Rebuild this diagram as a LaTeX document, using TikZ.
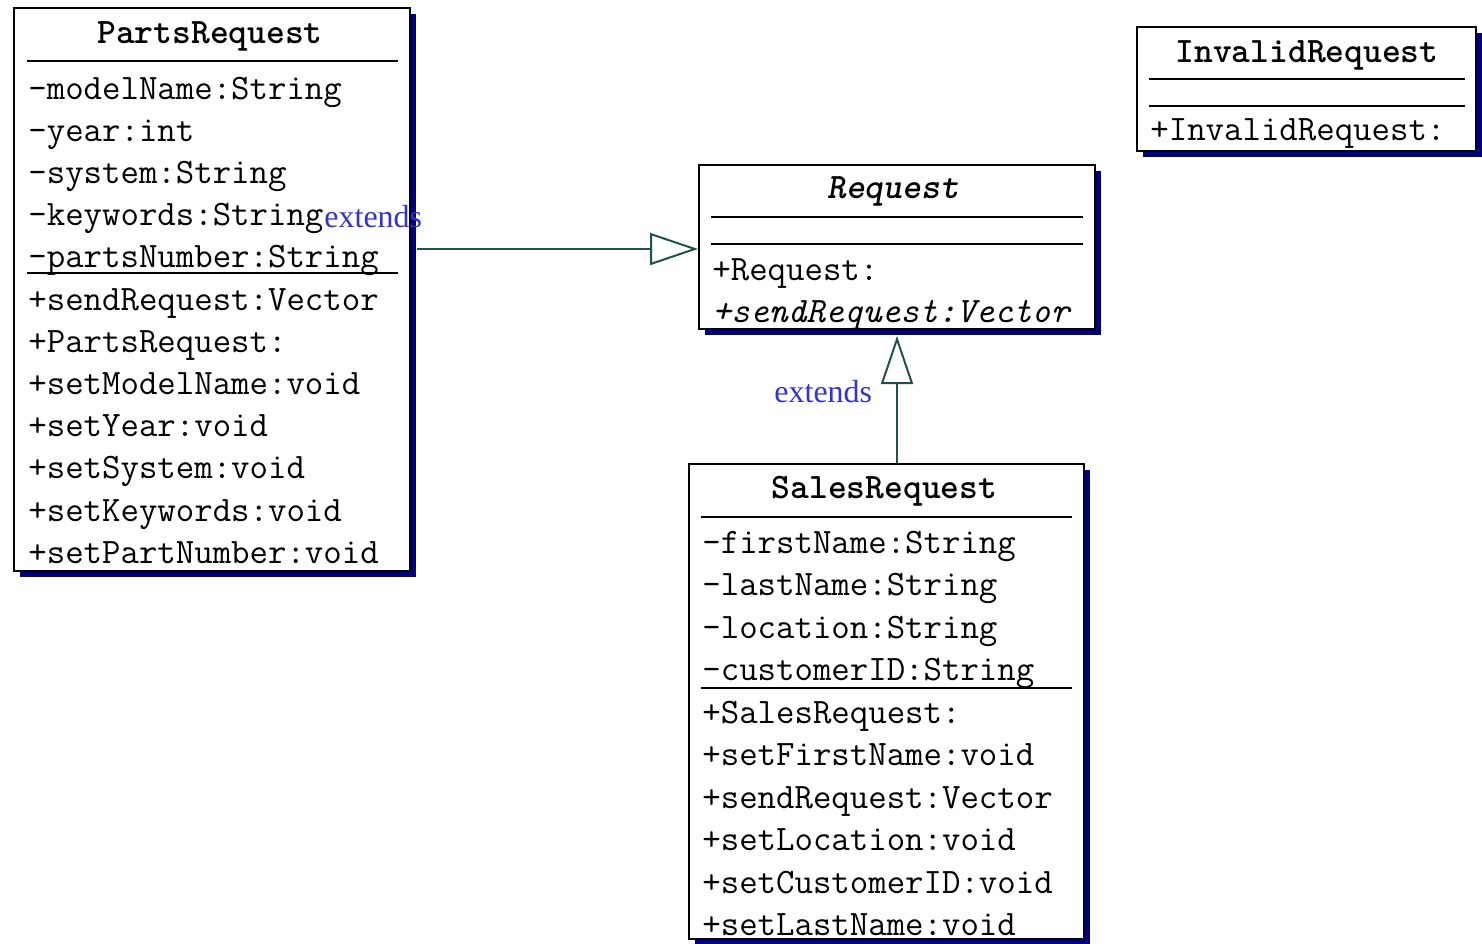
\documentclass[tikz,border=0pt]{standalone}
\usepackage{fontspec}
\newfontfamily\labelfont{Liberation Serif}
\usetikzlibrary{shadows,arrows.meta}
\definecolor{shadowblue}{HTML}{000080}
\definecolor{linkteal}{HTML}{205050}
\definecolor{labelblue}{HTML}{3333CC}
\newcommand\memberfont{\ttfamily\fontsize{17.9}{20}\selectfont}
\begin{document}
\begin{tikzpicture}[x=0.5pt,y=-0.5pt,
  classbox/.style={draw=black, line width=1pt, fill=white, inner sep=0pt,
    drop shadow={shadow xshift=3pt, shadow yshift=-3pt, fill=shadowblue, opacity=1}},
  member/.style={inner sep=0pt, anchor=base west, font=\memberfont},
  classtitle/.style={inner sep=0pt, anchor=base, font=\memberfont\bfseries},
  sepline/.style={line width=1pt},
  link/.style={draw=linkteal, line width=1pt, -{Triangle[length=24pt,width=16pt,fill=white]}},
  extlabel/.style={inner sep=0pt, anchor=base west, text=labelblue, font=\labelfont\fontsize{16}{18}\selectfont}]
\useasboundingbox (0,0) rectangle (1482,943);

% class boxes
\node[classbox, minimum width=198pt, minimum height=281.5pt] (parts) at (212,289.5) {};
\node[classbox, minimum width=198pt, minimum height=82pt] (req) at (897,247) {};
\node[classbox, minimum width=169.5pt, minimum height=62pt] (inv) at (1306.5,89) {};
\node[classbox, minimum width=197.5pt, minimum height=237.5pt] (sales) at (886.5,701.5) {};

% PartsRequest
\node[classtitle] (partsT) at (210,43) {PartsRequest};
\draw[sepline] (27,61) -- (398,61);
\draw[sepline] (27,272.5) -- (398,272.5);
\foreach \t [count=\i from 0] in {-modelName:String,-year:int,-system:String,-keywords:String,-partsNumber:String,+sendRequest:Vector,+PartsRequest:,+setModelName:void,+setYear:void,+setSystem:void,+setKeywords:void,+setPartNumber:void}
  \node[member] (pm\i) at (28,99+42.2*\i) {\t};

% Request (abstract)
\node[classtitle, font=\memberfont\bfseries\itshape] (reqT) at (893,198) {Request};
\draw[sepline] (711,217) -- (1083,217);
\draw[sepline] (711,244) -- (1083,244);
\node[member] (rm0) at (712,280) {+Request:};
\node[member, font=\memberfont\itshape] (rm1) at (712,322) {+sendRequest:Vector};

% InvalidRequest
\node[classtitle] (invT) at (1307,62) {InvalidRequest};
\draw[sepline] (1149,79) -- (1465,79);
\draw[sepline] (1149,106) -- (1465,106);
\node[member] (im0) at (1150,140) {+InvalidRequest:};

% SalesRequest
\node[classtitle] (salesT) at (884.5,498) {SalesRequest};
\draw[sepline] (701,517) -- (1072,517);
\draw[sepline] (701,688) -- (1072,688);
\foreach \t [count=\i from 0] in {-firstName:String,-lastName:String,-location:String,-customerID:String,+SalesRequest:,+setFirstName:void,+sendRequest:Vector,+setLocation:void,+setCustomerID:void,+setLastName:void}
  \node[member] (sm\i) at (702,553+42.5*\i) {\t};

% generalisation links
\coordinate (reqIn) at ([yshift=-1pt]req.west);
\draw[link, shorten <=3pt] (parts.east |- reqIn) -- (reqIn);
\draw[link, shorten >=3pt] (sales.north -| req.south) -- (req.south);
\node[extlabel] (ext1) at (324,227) {extends};
\node[extlabel] (ext2) at (774,402) {extends};
\end{tikzpicture}
\end{document}
